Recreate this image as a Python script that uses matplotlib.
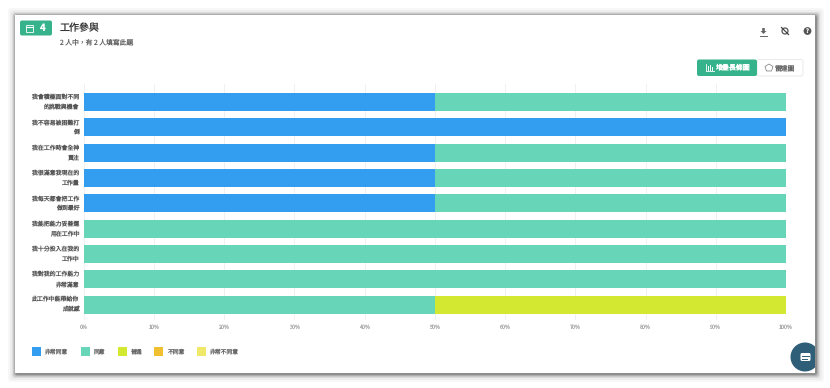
import matplotlib.pyplot as plt
from matplotlib.patches import FancyBboxPatch, Rectangle, Circle, Polygon
from matplotlib.transforms import ScaledTranslation

plt.rcParams['font.family'] = ['Noto Sans CJK TC', 'DejaVu Sans']
plt.rcParams['text.hinting'] = 'no_hinting'
plt.rcParams['text.hinting_factor'] = 1

questions = [
    "我會積極面對不同\n的挑戰與機會",
    "我不容易被困難打\n倒",
    "我在工作時會全神\n貫注",
    "我很滿意我現在的\n工作量",
    "我每天都會把工作\n做到最好",
    "我能把能力妥善運\n用在工作中",
    "我十分投入在我的\n工作中",
    "我對我的工作能力\n非常滿意",
    "此工作中能帶給你\n成就感",
]
levels = ["非常同意", "同意", "普通", "不同意", "非常不同意"]
level_colors = ["#339df0", "#66d5b8", "#d3e830", "#f0c030", "#f0e868"]
strongly_agree = [50, 100, 50, 50, 50, 0, 0, 0, 0]
agree = [50, 0, 50, 50, 50, 100, 100, 100, 50]
neutral = [0, 0, 0, 0, 0, 0, 0, 0, 50]
disagree = [0, 0, 0, 0, 0, 0, 0, 0, 0]
strongly_disagree = [0, 0, 0, 0, 0, 0, 0, 0, 0]
series = [strongly_agree, agree, neutral, disagree, strongly_disagree]
xticks = list(range(0, 101, 10))

W, H = 830, 388
fig = plt.figure(figsize=(W / 100, H / 100), dpi=100, facecolor="white")

# page layer, in pixels
bg = fig.add_axes([0, 0, 1, 1])
bg.set_xlim(0, W)
bg.set_ylim(H, 0)
bg.axis("off")

# card shadow
for grow, alpha in [(8, 0.03), (6, 0.04), (4, 0.07), (3, 0.09), (2, 0.13), (1, 0.18)]:
    bg.add_patch(FancyBboxPatch((15 - grow + 1, 15 - grow + 1), 800 + 2 * grow, 358 + 2 * grow,
                                boxstyle="round,pad=0,rounding_size=3", fc="black", ec="none", alpha=alpha))
bg.add_patch(Rectangle((15, 14.5), 800, 358.5, fc="white", ec="none"))

# header
bg.add_patch(FancyBboxPatch((20, 20.5), 32, 15, boxstyle="round,pad=0,rounding_size=2", fc="#36b38a", ec="none"))
bg.add_patch(Rectangle((25.5, 25), 7, 6.5, fc="none", ec="white", lw=0.6))
bg.plot([25.5, 32.5], [27, 27], color="white", lw=0.8)
bg.text(42.5, 28, "4", color="white", fontsize=7, fontweight="bold", ha="center", va="center")
bg.text(60, 28.5, "工作參與", color="#333333", fontsize=7.2, ha="left", va="center")
bg.text(60, 42, "2 人中，有 2 人填寫此題", color="#666666", fontsize=4.9, ha="left", va="center")

# top right icons
bg.add_patch(Polygon([[760.5, 31], [763.5, 34], [766.5, 31], [764.8, 31], [764.8, 28], [762.2, 28], [762.2, 31]],
                     fc="#666666", ec="none"))
bg.plot([760, 767], [35.5, 35.5], color="#666666", lw=0.7)
bg.add_patch(Circle((785, 31), 3, fc="none", ec="#555555", lw=0.9))
bg.plot([781.5, 788.5], [27.5, 34.5], color="#444444", lw=0.9)
bg.add_patch(Circle((807.5, 31), 3.9, fc="#555555", ec="none"))
bg.text(807.5, 31, "?", color="white", fontsize=4.2, fontweight="bold", ha="center", va="center")

# chart type buttons
bg.add_patch(FancyBboxPatch((757, 59.5), 46, 16.5, boxstyle="round,pad=0,rounding_size=2",
                            fc="white", ec="#e6e6e6", lw=0.6))
bg.add_patch(FancyBboxPatch((697, 59.5), 60, 16.5, boxstyle="round,pad=0,rounding_size=2", fc="#36b38a", ec="none"))
bg.plot([706, 706, 713.5], [63.5, 71, 71], color="white", lw=0.6)
bg.plot([708, 708], [66, 69.5], color="white", lw=0.7)
bg.plot([710, 710], [64.5, 69.5], color="white", lw=0.7)
bg.plot([712, 712], [66.5, 69.5], color="white", lw=0.7)
bg.text(715, 68, "堆疊長條圖", color="white", fontsize=5, fontweight="bold", ha="left", va="center")
bg.add_patch(Polygon([[769, 64], [765, 66.5], [766.5, 71], [771.5, 71], [773, 66.5]], fc="none", ec="#777777", lw=0.5))
bg.text(774.5, 68, "雷達圖", color="#666666", fontsize=4.9, ha="left", va="center")

# chart, plot area runs a little past the first and last band
ax = fig.add_axes([83.5 / W, 1 - 320 / H, 702.5 / W, 236 / H])
ypos = list(range(len(questions)))
left = [0] * len(questions)
for vals, col, name in zip(series, level_colors, levels):
    ax.barh(ypos, vals, left=left, height=0.71, color=col, label=name, zorder=3)
    left = [a + b for a, b in zip(left, vals)]
ax.set_xlim(0, 100)
ax.set_ylim(8.6, -0.71)
ax.set_yticks(ypos)
ax.set_yticklabels(questions, fontsize=4.25, color="#555555", linespacing=1.65, ha="right")
ax.set_xticks(xticks)
ax.set_xticklabels([f"{t}%" for t in xticks], fontsize=3.9, color="#aaaaaa")
ax.tick_params(axis="y", length=0, pad=3)
ax.tick_params(axis="x", length=0, pad=3)
# nudge the two line labels up, this font sits low (after tick_params, it resets transforms)
nudge = ScaledTranslation(0, 2.5 / 100, fig.dpi_scale_trans)
for lab in ax.get_yticklabels():
    lab.set_transform(lab.get_transform() + nudge)
ax.grid(axis="x", color="#eeeeee", lw=0.6, zorder=0)
ax.set_axisbelow(True)
for s in ax.spines.values():
    s.set_visible(False)
ax.patch.set_alpha(0)

# legend, hand placed to keep the tight spacing
lg = fig.add_axes([0, 0, 1, 1])
lg.set_xlim(0, W)
lg.set_ylim(H, 0)
lg.axis("off")
legend_x = [32, 80.5, 117.5, 154, 197]
for x, col, name in zip(legend_x, level_colors, levels):
    lg.add_patch(Rectangle((x, 346.5), 9, 9, fc=col, ec="none"))
    lg.text(x + 13, 351.5, name, fontsize=4.2, color="#666666", ha="left", va="center")

# chat bubble, clipped by the card edge
bubble = Circle((805, 357), 14.5, fc="#2f5f78", ec="none")
lg.add_patch(bubble)
bubble.set_clip_path(Rectangle((700, 300), 115, 73, transform=lg.transData))
lg.add_patch(FancyBboxPatch((800.5, 353), 10, 8, boxstyle="round,pad=0,rounding_size=1.5", fc="white", ec="none"))
lg.plot([802, 809], [356, 356], color="#2f5f78", lw=0.7)
lg.plot([802, 806.5], [358.5, 358.5], color="#2f5f78", lw=0.7)

fig.savefig("out.png", dpi=100)
